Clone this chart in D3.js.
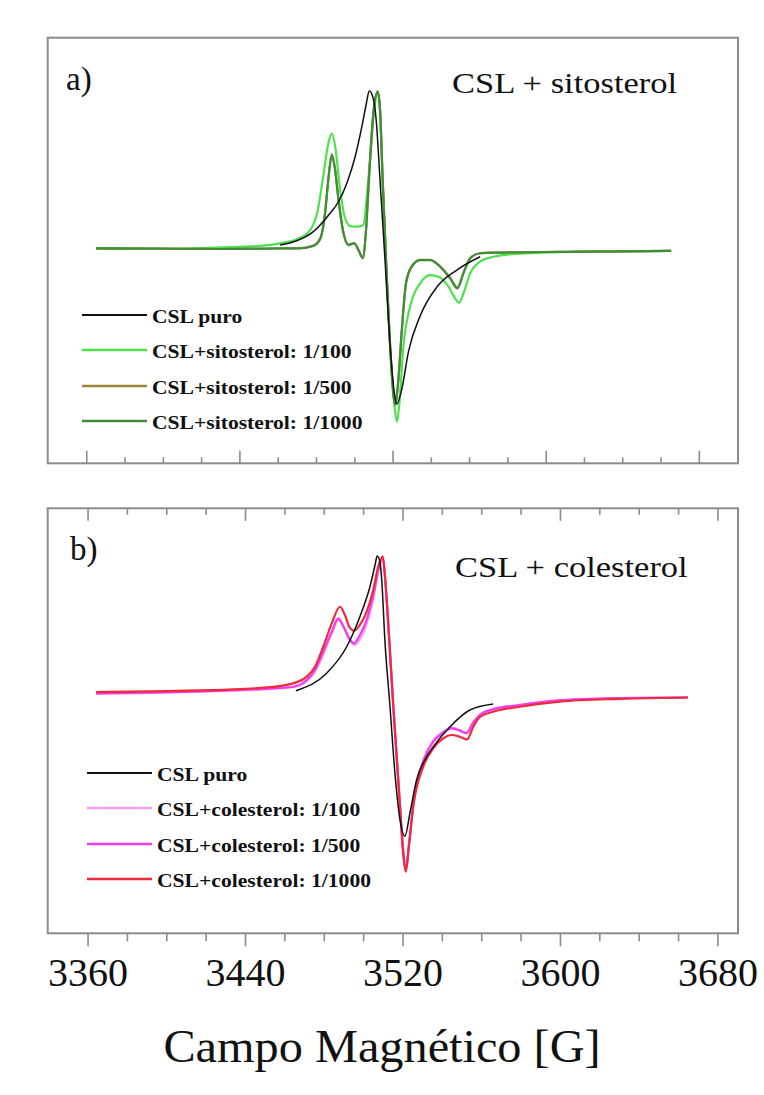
<!DOCTYPE html>
<html>
<head>
<meta charset="utf-8">
<script src="https://cdn.jsdelivr.net/npm/d3@7"></script>
<style>
  body { margin: 0; background: #fff; }
  text { font-family: "Liberation Serif", "Times New Roman", serif; fill: #111; }
</style>
</head>
<body>
<svg id="chart" width="764" height="1095"></svg>
<script>
// ---- data: [field (G), normalised EPR signal] ----
const sitoPuro = [[3461.0,0.025],[3469.7,0.052],[3478.4,0.110],[3487.1,0.226],[3491.5,0.299],[3495.8,0.415],[3500.2,0.584],[3503.7,0.774],[3505.9,0.911],[3507.6,1.0],[3509.4,0.964],[3511.2,0.816],[3513.2,0.437],[3515.9,-0.089],[3518.5,-0.618],[3520.6,-0.905],[3522.0,-0.981],[3524.6,-0.886],[3528.0,-0.652],[3534.2,-0.422],[3542.9,-0.24],[3553.3,-0.133],[3565.5,-0.049]];

const sito100 = [[3364.9,0.0],[3398.3,0.0],[3429.7,0.01],[3450.6,0.02],[3461.0,0.036],[3469.7,0.061],[3476.7,0.12],[3480.6,0.24],[3483.4,0.45],[3486.2,0.669],[3488.0,0.732],[3489.9,0.64],[3492.2,0.39],[3494.6,0.21],[3497.6,0.145],[3501.1,0.141],[3504.5,0.152],[3506.6,0.373],[3508.9,0.711],[3510.6,0.922],[3512.0,0.996],[3513.2,0.88],[3514.6,0.43],[3516.4,-0.09],[3518.5,-0.618],[3520.6,-0.977],[3522.0,-1.093],[3523.3,-0.977],[3525.4,-0.618],[3528.9,-0.365],[3534.2,-0.217],[3539.4,-0.165],[3543.7,-0.175],[3549.0,-0.238],[3552.4,-0.312],[3554.5,-0.34],[3556.8,-0.28],[3560.3,-0.154],[3565.5,-0.08],[3572.4,-0.049],[3582.9,-0.032],[3607.3,-0.02],[3638.7,-0.015],[3665.3,-0.012]];

const sito500 = [[3364.9,0.004],[3398.3,0.002],[3429.7,0.0],[3461.0,0.003],[3471.4,0.005],[3478.4,0.022],[3481.9,0.066],[3484.5,0.232],[3486.2,0.445],[3488.0,0.60],[3489.7,0.51],[3491.5,0.318],[3494.1,0.104],[3496.7,0.028],[3499.7,0.038],[3501.9,-0.004],[3504.2,-0.052],[3505.9,0.125],[3507.6,0.482],[3509.7,0.86],[3512.0,0.996],[3513.2,0.88],[3514.6,0.43],[3516.4,-0.09],[3518.5,-0.618],[3521.1,-0.98],[3522.8,-0.82],[3524.6,-0.505],[3526.8,-0.212],[3529.8,-0.108],[3534.2,-0.068],[3539.4,-0.069],[3544.6,-0.11],[3549.8,-0.182],[3553.6,-0.243],[3556.8,-0.15],[3560.3,-0.058],[3565.5,-0.027],[3574.2,-0.023],[3607.3,-0.018],[3638.7,-0.015],[3665.3,-0.012]];

const sito1000 = [[3364.9,0.006],[3398.3,0.003],[3429.7,0.0],[3461.0,0.004],[3471.4,0.004],[3478.4,0.019],[3481.9,0.061],[3484.5,0.226],[3486.2,0.437],[3488.0,0.589],[3489.7,0.5],[3491.5,0.31],[3494.1,0.099],[3496.7,0.025],[3499.7,0.036],[3501.9,-0.006],[3504.2,-0.059],[3505.9,0.12],[3507.6,0.479],[3509.7,0.859],[3512.0,0.996],[3513.2,0.88],[3514.6,0.43],[3516.4,-0.09],[3518.5,-0.618],[3521.1,-0.987],[3522.8,-0.829],[3524.6,-0.513],[3526.8,-0.217],[3529.8,-0.112],[3534.2,-0.07],[3539.4,-0.07],[3544.6,-0.112],[3549.8,-0.186],[3553.6,-0.249],[3556.8,-0.154],[3560.3,-0.059],[3565.5,-0.027],[3574.2,-0.023],[3607.3,-0.018],[3638.7,-0.015],[3665.3,-0.012]];

const colePuro = [[3465.6,0.01],[3481.2,0.138],[3491.4,0.333],[3498.1,0.554],[3503.2,0.774],[3505.8,0.934],[3506.9,1.0],[3508.3,0.956],[3509.2,0.824],[3510.8,0.382],[3513.4,-0.108],[3515.9,-0.596],[3518.5,-0.941],[3521.0,-1.059],[3523.5,-0.892],[3526.9,-0.647],[3532.0,-0.476],[3535.4,-0.402],[3543.9,-0.255],[3554.0,-0.132],[3565.8,-0.088]];

const cole100 = [[3364.1,-0.012],[3391.5,-0.006],[3416.9,0.003],[3437.2,0.012],[3447.4,0.018],[3464.3,0.035],[3471.1,0.08],[3475.3,0.15],[3479.5,0.28],[3483.8,0.43],[3487.1,0.53],[3490.0,0.47],[3492.7,0.385],[3495.6,0.345],[3498.6,0.40],[3501.5,0.50],[3504.9,0.69],[3507.4,0.88],[3509.7,0.99],[3511.0,0.82],[3512.5,0.50],[3515.1,-0.11],[3518.5,-0.84],[3520.1,-1.16],[3521.4,-1.30],[3523.0,-1.12],[3525.2,-0.82],[3530.3,-0.50],[3535.4,-0.355],[3540.5,-0.29],[3544.7,-0.26],[3548.9,-0.28],[3552.2,-0.30],[3555.7,-0.22],[3559.1,-0.165],[3565.8,-0.125],[3579.4,-0.094],[3599.7,-0.06],[3630.2,-0.044],[3664.7,-0.038]];

const cole500 = [[3364.1,-0.01],[3391.5,-0.005],[3416.9,0.005],[3437.2,0.015],[3447.4,0.022],[3464.3,0.039],[3471.1,0.088],[3475.3,0.162],[3479.5,0.296],[3483.8,0.443],[3487.1,0.542],[3490.0,0.476],[3492.7,0.395],[3495.1,0.358],[3498.1,0.419],[3501.5,0.529],[3504.9,0.713],[3507.4,0.897],[3509.7,0.995],[3511.0,0.824],[3512.5,0.505],[3515.1,-0.108],[3518.5,-0.843],[3520.1,-1.17],[3521.4,-1.31],[3523.0,-1.13],[3525.2,-0.83],[3530.3,-0.512],[3535.4,-0.365],[3540.5,-0.299],[3544.7,-0.267],[3548.9,-0.284],[3552.2,-0.304],[3555.7,-0.225],[3559.1,-0.169],[3565.8,-0.127],[3579.4,-0.096],[3599.7,-0.062],[3630.2,-0.045],[3664.7,-0.04]];

const cole1000 = [[3364.1,0.0],[3391.5,0.005],[3416.9,0.012],[3437.2,0.022],[3447.4,0.03],[3464.3,0.064],[3471.1,0.113],[3475.3,0.186],[3479.5,0.333],[3483.8,0.505],[3488.0,0.627],[3490.5,0.566],[3492.7,0.48],[3495.1,0.451],[3498.1,0.493],[3501.5,0.59],[3504.9,0.75],[3507.4,0.921],[3509.7,0.995],[3511.0,0.824],[3512.5,0.505],[3515.1,-0.108],[3518.5,-0.843],[3520.1,-1.186],[3521.4,-1.321],[3523.0,-1.137],[3525.2,-0.843],[3530.3,-0.549],[3535.4,-0.414],[3540.5,-0.34],[3544.7,-0.316],[3548.9,-0.329],[3552.6,-0.348],[3555.7,-0.255],[3559.1,-0.182],[3565.8,-0.145],[3579.4,-0.108],[3599.7,-0.07],[3630.2,-0.05],[3664.7,-0.04]];

const sitoLabels = ["CSL puro", "CSL+sitosterol: 1/100", "CSL+sitosterol: 1/500", "CSL+sitosterol: 1/1000"];
const coleLabels = ["CSL puro", "CSL+colesterol: 1/100", "CSL+colesterol: 1/500", "CSL+colesterol: 1/1000"];
const majorTicks = [3360, 3440, 3520, 3600, 3680];
const minorTicks = d3.range(3360, 3681, 20);

const sitoColors = ["#111111", "#4fe04f", "#9a8436", "#3f8f3a"];
const coleColors = ["#111111", "#f09ef0", "#f23cf0", "#ee2b3c"];

const svg = d3.select("#chart");
const frameColor = "#8c8c8c";

// panel geometry
const left = 47.7, right = 738;
const panels = [
  { top: 37.7, bottom: 463.3, xDom: [3339.6, 3700.2], yDom: [-1.356, 1.337],
    series: [sitoPuro, sito100, sito500, sito1000], colors: sitoColors, labels: sitoLabels,
    tag: "a)", title: "CSL + sitosterol", tagPos: [66, 90], titlePos: [452, 93],
    legX: 82, legY: [315, 350, 386, 421], topTicks: false, bottomOut: false },
  { top: 508.3, bottom: 933.3, xDom: [3339.5, 3690.2], yDom: [-1.774, 1.351],
    series: [colePuro, cole100, cole500, cole1000], colors: coleColors, labels: coleLabels,
    tag: "b)", title: "CSL + colesterol", tagPos: [70, 560], titlePos: [455, 577],
    legX: 87, legY: [773, 808, 844, 879], topTicks: true, bottomOut: true }
];

function stretchText(g, x, y, str, size, sx, anchor, weight) {
  return g.append("text")
    .attr("transform", `translate(${x},${y}) scale(${sx},1)`)
    .attr("font-size", size)
    .attr("font-weight", weight || "normal")
    .attr("text-anchor", anchor || "start")
    .text(str);
}

let xLast;
panels.forEach(p => {
  const x = d3.scaleLinear().domain(p.xDom).range([left, right]);
  const y = d3.scaleLinear().domain(p.yDom).range([p.bottom, p.top]);
  xLast = x;
  const g = svg.append("g");

  // spectra (black drawn last, on top)
  const line = d3.line().x(d => x(d[0])).y(d => y(d[1])).curve(d3.curveMonotoneX);
  [1, 2, 3, 0].forEach(i => {
    g.append("path")
      .attr("d", line(p.series[i]))
      .attr("fill", "none")
      .attr("stroke", p.colors[i])
      .attr("stroke-width", i === 0 ? 1.5 : 2.2)
      .attr("stroke-linejoin", "round");
  });

  // frame
  g.append("rect")
    .attr("x", left).attr("y", p.top)
    .attr("width", right - left).attr("height", p.bottom - p.top)
    .attr("fill", "none").attr("stroke", frameColor).attr("stroke-width", 2);

  // ticks
  const isMajor = v => majorTicks.includes(v);
  g.selectAll(".tb").data(minorTicks).enter().append("line")
    .attr("x1", d => x(d)).attr("x2", d => x(d))
    .attr("y1", p.bottom)
    .attr("y2", d => p.bottomOut ? p.bottom + (isMajor(d) ? 13 : 8) : p.bottom - (isMajor(d) ? 12.5 : 6))
    .attr("stroke", frameColor).attr("stroke-width", 1.6);
  if (p.topTicks) {
    g.selectAll(".tt").data(minorTicks).enter().append("line")
      .attr("x1", d => x(d)).attr("x2", d => x(d))
      .attr("y1", p.top).attr("y2", d => p.top + (isMajor(d) ? 12.5 : 6.5))
      .attr("stroke", frameColor).attr("stroke-width", 1.6);
  }

  // tag and title
  stretchText(g, p.tagPos[0], p.tagPos[1], p.tag, 33, 1.0);
  stretchText(g, p.titlePos[0], p.titlePos[1], p.title, 30, 1.15);

  // legend
  p.labels.forEach((lab, i) => {
    g.append("line")
      .attr("x1", p.legX).attr("x2", p.legX + 65)
      .attr("y1", p.legY[i]).attr("y2", p.legY[i])
      .attr("stroke", p.colors[i]).attr("stroke-width", i === 0 ? 2 : 2.6);
    stretchText(g, p.legX + 70, p.legY[i] + 8, lab, 18, 1.2, "start", "bold");
  });
});

// bottom axis labels (belong to panel b)
majorTicks.forEach(v => {
  stretchText(svg, xLast(v), 986, String(v), 40, 1.0, "middle");
});
stretchText(svg, 382, 1062, "Campo Magnético [G]", 46, 1.05, "middle");
</script>
</body>
</html>
